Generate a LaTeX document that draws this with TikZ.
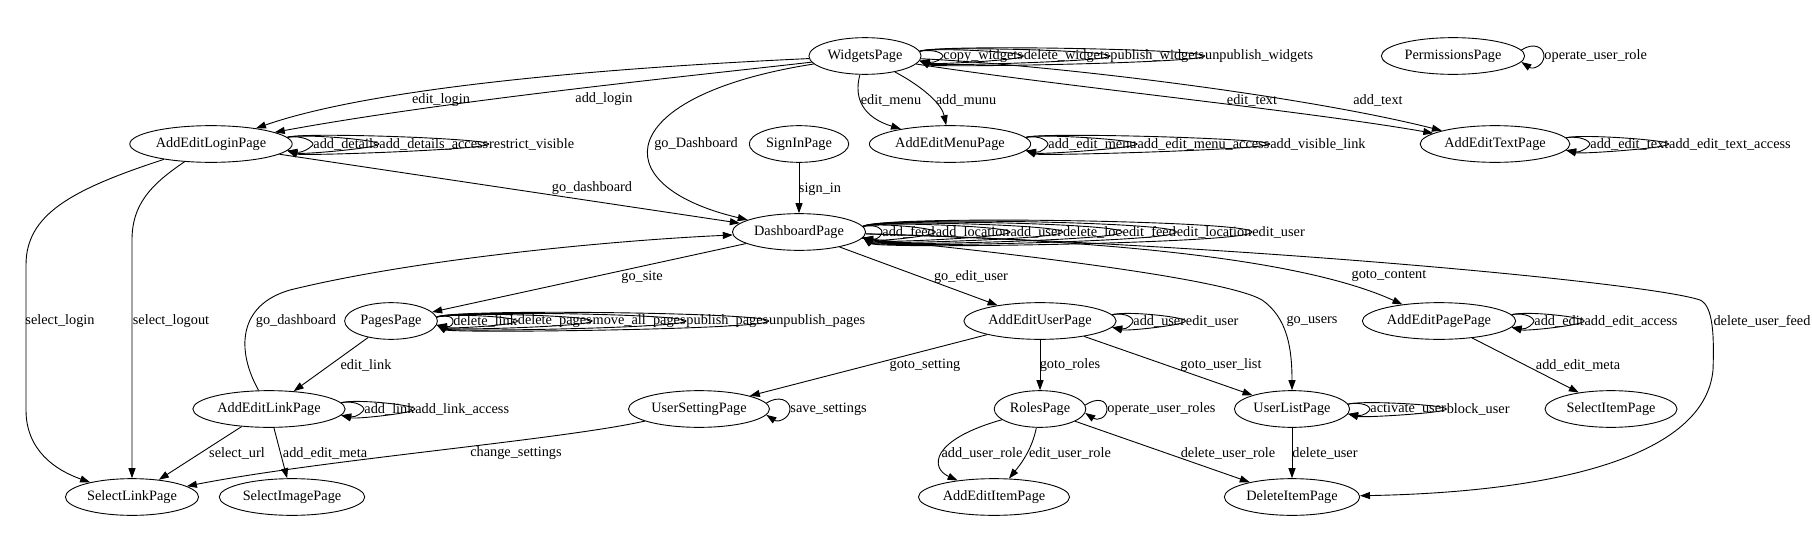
\documentclass[tikz,border=0pt]{standalone}
\usepackage{fontspec}
\setmainfont{Liberation Serif}
\usepackage{tikz}
\usetikzlibrary{arrows.meta,shapes,positioning}
\tikzstyle{page}=[ellipse,draw=black,line width=0.9pt,inner xsep=2.2pt,inner ysep=0pt,minimum height=36.7pt,font=\fontsize{14.3}{17}\selectfont]
\tikzstyle{lbl}=[inner sep=0pt,font=\fontsize{14.3}{17}\selectfont]
\tikzstyle{dgraph}=[-{Triangle[length=10pt,width=7pt]}, line width=0.9pt]

\begin{document}
\begin{tikzpicture}[x=1pt,y=-1pt,dgraph]
\useasboundingbox (0,0) rectangle (1812,554);
\node[page] (WidgetsPage) at (865,56) {WidgetsPage};
\node[page] (PermissionsPage) at (1453,56) {PermissionsPage};
\node[page] (AddEditLoginPage) at (211,144) {AddEditLoginPage};
\node[page] (SignInPage) at (799,144) {SignInPage};
\node[page] (AddEditMenuPage) at (950,144) {AddEditMenuPage};
\node[page] (AddEditTextPage) at (1495,144) {AddEditTextPage};
\node[page] (DashboardPage) at (799,232) {DashboardPage};
\node[page] (PagesPage) at (391,321) {PagesPage};
\node[page] (AddEditUserPage) at (1040,321) {AddEditUserPage};
\node[page] (AddEditPagePage) at (1439,321) {AddEditPagePage};
\node[page] (AddEditLinkPage) at (269,409) {AddEditLinkPage};
\node[page] (UserSettingPage) at (699,409) {UserSettingPage};
\node[page] (RolesPage) at (1040,409) {RolesPage};
\node[page] (UserListPage) at (1292,409) {UserListPage};
\node[page] (SelectItemPage) at (1611,409) {SelectItemPage};
\node[page] (SelectLinkPage) at (132,497) {SelectLinkPage};
\node[page] (SelectImagePage) at (292,497) {SelectImagePage};
\node[page] (AddEditItemPage) at (994,497) {AddEditItemPage};
\node[page] (DeleteItemPage) at (1292,497) {DeleteItemPage};

% edges from WidgetsPage
\draw (WidgetsPage) .. controls (560,70) and (360,92) .. (AddEditLoginPage) node[lbl] at (441,100) {edit\_login};
\draw (WidgetsPage) .. controls (700,75) and (450,100) .. (AddEditLoginPage) node[lbl] at (604,99) {add\_login};
\draw (WidgetsPage) .. controls (615,95) and (600,185) .. (DashboardPage) node[lbl] at (696,144) {go\_Dashboard};
\draw (WidgetsPage) .. controls (853,100) and (865,118) .. (AddEditMenuPage) node[lbl] at (891,100) {edit\_menu};
\draw (WidgetsPage) .. controls (925,88) and (942,105) .. (AddEditMenuPage) node[lbl] at (966,100) {add\_munu};
\draw (WidgetsPage) .. controls (1050,85) and (1300,110) .. (AddEditTextPage) node[lbl] at (1252,100) {edit\_text};
\draw (WidgetsPage) .. controls (1050,65) and (1300,95) .. (AddEditTextPage) node[lbl] at (1378,100) {add\_text};

% edges to and from DashboardPage
\draw (SignInPage) -- (DashboardPage) node[lbl] at (820,189) {sign\_in};
\draw (AddEditLoginPage) -- (DashboardPage) node[lbl] at (592,188) {go\_dashboard};
\draw (AddEditLinkPage) .. controls (236,350) and (238,305) .. (290,290) .. controls (420,258) and (620,240) .. (DashboardPage) node[lbl] at (296,321) {go\_dashboard};
\draw (DashboardPage) -- (PagesPage) node[lbl] at (642,277) {go\_site};
\draw (DashboardPage) -- (AddEditUserPage) node[lbl] at (971,277) {go\_edit\_user};
\draw (DashboardPage) .. controls (1000,252) and (1225,278) .. (1262,300) .. controls (1288,318) and (1292,350) .. (UserListPage) node[lbl] at (1312,321) {go\_users};
\draw (DashboardPage) .. controls (1100,240) and (1300,258) .. (AddEditPagePage) node[lbl] at (1389,276) {goto\_content};
\draw (DashboardPage) .. controls (1250,245) and (1650,283) .. (1700,300) .. controls (1714,306) and (1714,340) .. (1713,370) .. controls (1705,455) and (1560,492) .. (DeleteItemPage) node[lbl] at (1762,321) {delete\_user\_feed};

% left part
\draw (AddEditLoginPage) .. controls (70,190) and (26,215) .. (26,265) -- (26,410) .. controls (26,450) and (55,470) .. (SelectLinkPage) node[lbl] at (60,321) {select\_login};
\draw (AddEditLoginPage) .. controls (150,185) and (132,205) .. (132,240) -- (SelectLinkPage) node[lbl] at (171,321) {select\_logout};
\draw (PagesPage) -- (AddEditLinkPage) node[lbl] at (366,365) {edit\_link};
\draw (AddEditLinkPage) -- (SelectLinkPage) node[lbl] at (237,453) {select\_url};
\draw (AddEditLinkPage) -- (SelectImagePage) node[lbl] at (325,453) {add\_edit\_meta};
\draw (UserSettingPage) .. controls (560,440) and (320,460) .. (SelectLinkPage) node[lbl] at (516,453) {change\_settings};

% user part
\draw (AddEditUserPage) -- (UserSettingPage) node[lbl] at (925,365) {goto\_setting};
\draw (AddEditUserPage) -- (RolesPage) node[lbl] at (1070,365) {goto\_roles};
\draw (AddEditUserPage) -- (UserListPage) node[lbl] at (1221,365) {goto\_user\_list};
\draw (RolesPage) .. controls (930,440) and (930,468) .. (AddEditItemPage) node[lbl] at (982,453) {add\_user\_role};
\draw (RolesPage) .. controls (1032,450) and (1020,465) .. (AddEditItemPage) node[lbl] at (1070,453) {edit\_user\_role};
\draw (RolesPage) -- (DeleteItemPage) node[lbl] at (1228,453) {delete\_user\_role};
\draw (UserListPage) -- (DeleteItemPage) node[lbl] at (1325,453) {delete\_user};
\draw (AddEditPagePage) -- (SelectItemPage) node[lbl] at (1578,365) {add\_edit\_meta};

% self loops
\node[lbl,anchor=west] (wl1) at (943,56) {copy\_widgets};
\node[lbl,right=0pt of wl1] (wl2) {delete\_widgets};
\node[lbl,right=0pt of wl2] (wl3) {publish\_widgets};
\node[lbl,right=0pt of wl3] (wl4) {unpublish\_widgets};
\draw (WidgetsPage.5) .. controls +(15,-2.5) and +(0,-2.5) .. (wl1.west) .. controls +(0,2.5) and +(15,2.5) .. (WidgetsPage.-5);
\draw (WidgetsPage.5) .. controls +(15,-4) and +(0,-4) .. (wl2.west) .. controls +(0,4) and +(15,4) .. (WidgetsPage.-5);
\draw (WidgetsPage.5) .. controls +(15,-5.5) and +(0,-5.5) .. (wl3.west) .. controls +(0,5.5) and +(15,5.5) .. (WidgetsPage.-5);
\draw (WidgetsPage.5) .. controls +(15,-7) and +(0,-7) .. (wl4.west) .. controls +(0,7) and +(15,7) .. (WidgetsPage.-5);

\node[lbl,anchor=west] (pl1) at (1544,56) {operate\_user\_role};
\draw (PermissionsPage.5) .. controls +(12,-8) and +(0,-9) .. (pl1.west) .. controls +(0,9) and +(12,8) .. (PermissionsPage.-5);

\node[lbl,anchor=west] (al1) at (313,144) {add\_details};
\node[lbl,right=0pt of al1] (al2) {add\_details\_access};
\node[lbl,right=0pt of al2] (al3) {restrict\_visible};
\draw (AddEditLoginPage.5) .. controls +(15,-2.5) and +(0,-2.5) .. (al1.west) .. controls +(0,2.5) and +(15,2.5) .. (AddEditLoginPage.-5);
\draw (AddEditLoginPage.5) .. controls +(15,-4) and +(0,-4) .. (al2.west) .. controls +(0,4) and +(15,4) .. (AddEditLoginPage.-5);
\draw (AddEditLoginPage.5) .. controls +(15,-5.5) and +(0,-5.5) .. (al3.west) .. controls +(0,5.5) and +(15,5.5) .. (AddEditLoginPage.-5);

\node[lbl,anchor=west] (ml1) at (1048,144) {add\_edit\_menu};
\node[lbl,right=0pt of ml1] (ml2) {add\_edit\_menu\_access};
\node[lbl,right=0pt of ml2] (ml3) {add\_visible\_link};
\draw (AddEditMenuPage.5) .. controls +(15,-2.5) and +(0,-2.5) .. (ml1.west) .. controls +(0,2.5) and +(15,2.5) .. (AddEditMenuPage.-5);
\draw (AddEditMenuPage.5) .. controls +(15,-4) and +(0,-4) .. (ml2.west) .. controls +(0,4) and +(15,4) .. (AddEditMenuPage.-5);
\draw (AddEditMenuPage.5) .. controls +(15,-5.5) and +(0,-5.5) .. (ml3.west) .. controls +(0,5.5) and +(15,5.5) .. (AddEditMenuPage.-5);

\node[lbl,anchor=west] (tl1) at (1590,144) {add\_edit\_text};
\node[lbl,right=0pt of tl1] (tl2) {add\_edit\_text\_access};
\draw (AddEditTextPage.5) .. controls +(15,-2.5) and +(0,-2.5) .. (tl1.west) .. controls +(0,2.5) and +(15,2.5) .. (AddEditTextPage.-5);
\draw (AddEditTextPage.5) .. controls +(15,-4) and +(0,-4) .. (tl2.west) .. controls +(0,4) and +(15,4) .. (AddEditTextPage.-5);

\node[lbl,anchor=west] (dl1) at (882,232) {add\_feed};
\node[lbl,right=0pt of dl1] (dl2) {add\_location};
\node[lbl,right=0pt of dl2] (dl3) {add\_user};
\node[lbl,right=0pt of dl3] (dl4) {delete\_loc};
\node[lbl,right=0pt of dl4] (dl5) {edit\_feed};
\node[lbl,right=0pt of dl5] (dl6) {edit\_location};
\node[lbl,right=0pt of dl6] (dl7) {edit\_user};
\draw (DashboardPage.5) .. controls +(15,-2.5) and +(0,-2.5) .. (dl1.west) .. controls +(0,2.5) and +(15,2.5) .. (DashboardPage.-5);
\draw (DashboardPage.5) .. controls +(15,-4) and +(0,-4) .. (dl2.west) .. controls +(0,4) and +(15,4) .. (DashboardPage.-5);
\draw (DashboardPage.5) .. controls +(15,-5.5) and +(0,-5.5) .. (dl3.west) .. controls +(0,5.5) and +(15,5.5) .. (DashboardPage.-5);
\draw (DashboardPage.5) .. controls +(15,-7) and +(0,-7) .. (dl4.west) .. controls +(0,7) and +(15,7) .. (DashboardPage.-5);
\draw (DashboardPage.5) .. controls +(15,-8.5) and +(0,-8.5) .. (dl5.west) .. controls +(0,8.5) and +(15,8.5) .. (DashboardPage.-5);
\draw (DashboardPage.5) .. controls +(15,-10) and +(0,-10) .. (dl6.west) .. controls +(0,10) and +(15,10) .. (DashboardPage.-5);
\draw (DashboardPage.5) .. controls +(15,-11.5) and +(0,-11.5) .. (dl7.west) .. controls +(0,11.5) and +(15,11.5) .. (DashboardPage.-5);

\node[lbl,anchor=west] (gl1) at (453,321) {delete\_link};
\node[lbl,right=0pt of gl1] (gl2) {delete\_pages};
\node[lbl,right=0pt of gl2] (gl3) {move\_all\_pages};
\node[lbl,right=0pt of gl3] (gl4) {publish\_pages};
\node[lbl,right=0pt of gl4] (gl5) {unpublish\_pages};
\draw (PagesPage.5) .. controls +(15,-2.5) and +(0,-2.5) .. (gl1.west) .. controls +(0,2.5) and +(15,2.5) .. (PagesPage.-5);
\draw (PagesPage.5) .. controls +(15,-4) and +(0,-4) .. (gl2.west) .. controls +(0,4) and +(15,4) .. (PagesPage.-5);
\draw (PagesPage.5) .. controls +(15,-5.5) and +(0,-5.5) .. (gl3.west) .. controls +(0,5.5) and +(15,5.5) .. (PagesPage.-5);
\draw (PagesPage.5) .. controls +(15,-7) and +(0,-7) .. (gl4.west) .. controls +(0,7) and +(15,7) .. (PagesPage.-5);
\draw (PagesPage.5) .. controls +(15,-8.5) and +(0,-8.5) .. (gl5.west) .. controls +(0,8.5) and +(15,8.5) .. (PagesPage.-5);

\node[lbl,anchor=west] (kl1) at (364,409) {add\_link};
\node[lbl,right=0pt of kl1] (kl2) {add\_link\_access};
\draw (AddEditLinkPage.5) .. controls +(15,-2.5) and +(0,-2.5) .. (kl1.west) .. controls +(0,2.5) and +(15,2.5) .. (AddEditLinkPage.-5);
\draw (AddEditLinkPage.5) .. controls +(15,-4) and +(0,-4) .. (kl2.west) .. controls +(0,4) and +(15,4) .. (AddEditLinkPage.-5);

\node[lbl,anchor=west] (ul1) at (1133,321) {add\_user};
\node[lbl,right=0pt of ul1] (ul2) {edit\_user};
\draw (AddEditUserPage.5) .. controls +(15,-2.5) and +(0,-2.5) .. (ul1.west) .. controls +(0,2.5) and +(15,2.5) .. (AddEditUserPage.-5);
\draw (AddEditUserPage.5) .. controls +(15,-4) and +(0,-4) .. (ul2.west) .. controls +(0,4) and +(15,4) .. (AddEditUserPage.-5);

\node[lbl,anchor=west] (el1) at (1534,321) {add\_edit};
\node[lbl,right=0pt of el1] (el2) {add\_edit\_access};
\draw (AddEditPagePage.5) .. controls +(15,-2.5) and +(0,-2.5) .. (el1.west) .. controls +(0,2.5) and +(15,2.5) .. (AddEditPagePage.-5);
\draw (AddEditPagePage.5) .. controls +(15,-4) and +(0,-4) .. (el2.west) .. controls +(0,4) and +(15,4) .. (AddEditPagePage.-5);

\node[lbl,anchor=west] (sl1) at (790,409) {save\_settings};
\draw (UserSettingPage.5) .. controls +(12,-8) and +(0,-9) .. (sl1.west) .. controls +(0,9) and +(12,8) .. (UserSettingPage.-5);

\node[lbl,anchor=west] (rl1) at (1107,409) {operate\_user\_roles};
\draw (RolesPage.5) .. controls +(12,-8) and +(0,-9) .. (rl1.west) .. controls +(0,9) and +(12,8) .. (RolesPage.-5);

\node[lbl,anchor=west] (ll1) at (1370,409) {activate\_user};
\node[lbl,right=0pt of ll1] (ll2) {block\_user};
\draw (UserListPage.5) .. controls +(15,-2.5) and +(0,-2.5) .. (ll1.west) .. controls +(0,2.5) and +(15,2.5) .. (UserListPage.-5);
\draw (UserListPage.5) .. controls +(15,-4) and +(0,-4) .. (ll2.west) .. controls +(0,4) and +(15,4) .. (UserListPage.-5);
\end{tikzpicture}
\end{document}
